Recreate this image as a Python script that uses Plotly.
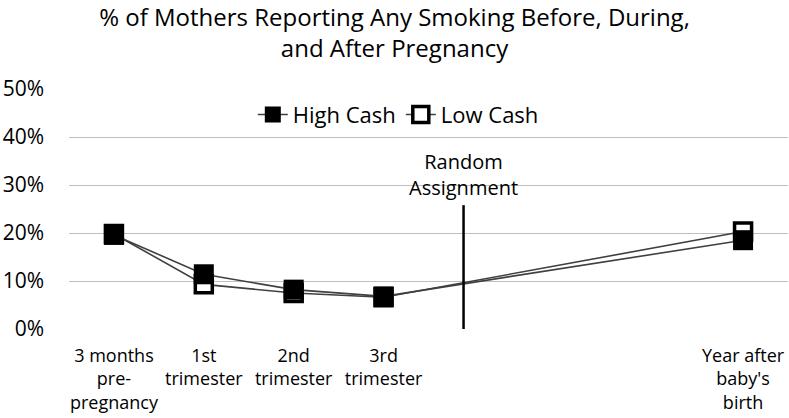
import plotly.graph_objects as go

# Timepoints (x position in category slots, 8 slots with two left empty)
labels = ['3 months<br>pre-<br>pregnancy', '1st<br>trimester', '2nd<br>trimester',
          '3rd<br>trimester', 'Year after<br>baby\'s<br>birth']
slots = [0, 1, 2, 3, 7]

high_cash = [19.6, 11.4, 8.2, 6.8, 18.5]
low_cash = [19.8, 9.3, 7.5, 6.6, 20.3]

y_ticks = [0, 10, 20, 30, 40, 50]
y_ticktext = ['0%', '10%', '20%', '30%', '40%', '50%']

RANDOM_X = 3.89
FONT = 'Open Sans'
LINE_COLOR = '#404040'

fig = go.Figure()

fig.add_trace(go.Scatter(
    x=slots, y=low_cash, mode='lines+markers', name='Low Cash',
    line=dict(color=LINE_COLOR, width=1.6),
    marker=dict(symbol='square', size=17, color='white',
                line=dict(color='black', width=3.5)),
    legendrank=2
))
fig.add_trace(go.Scatter(
    x=slots, y=high_cash, mode='lines+markers', name='High Cash',
    line=dict(color=LINE_COLOR, width=1.6),
    marker=dict(symbol='square', size=20, color='black',
                line=dict(color='black', width=0)),
    legendrank=1
))

# random assignment marker line
fig.add_shape(type='line', x0=RANDOM_X, x1=RANDOM_X, y0=-0.6, y1=25.8,
              xref='x', yref='y', line=dict(color='black', width=2.5))
fig.add_annotation(x=RANDOM_X, y=25.8, xref='x', yref='y',
                   text='Random<br>Assignment', showarrow=False,
                   yanchor='bottom', yshift=2,
                   font=dict(family=FONT, size=20, color='black'))

fig.update_layout(
    width=789, height=418,
    margin=dict(l=69, r=1, t=89, b=89),
    paper_bgcolor='white', plot_bgcolor='white',
    font=dict(family=FONT, color='black'),
    title=dict(text='% of Mothers Reporting Any Smoking Before, During,<br>and After Pregnancy',
               x=0.5, xanchor='center', y=0.939, yanchor='middle',
               font=dict(family=FONT, size=24, color='black')),
    legend=dict(orientation='h', x=0.458, xanchor='center', y=0.893, yanchor='middle',
                font=dict(family=FONT, size=22, color='black'),
                bgcolor='rgba(0,0,0,0)', itemwidth=30, traceorder='normal'),
    showlegend=True
)

fig.update_xaxes(
    range=[-0.5, 7.5], tickmode='array', tickvals=slots, ticktext=labels,
    showgrid=False, zeroline=False, showline=False, ticks='',
    tickfont=dict(family=FONT, size=18, color='black'), ticklabelstandoff=14
)
fig.update_yaxes(
    range=[0, 50], tickmode='array', tickvals=y_ticks, ticktext=y_ticktext,
    showgrid=True, gridcolor='#bfbfbf', gridwidth=1.3, zeroline=False,
    showline=False, ticks='',
    tickfont=dict(family=FONT, size=21, color='black'), ticklabelstandoff=24
)

fig.write_html('out.html', config={'displayModeBar': False},
               post_script="document.body.style.margin='0';")
